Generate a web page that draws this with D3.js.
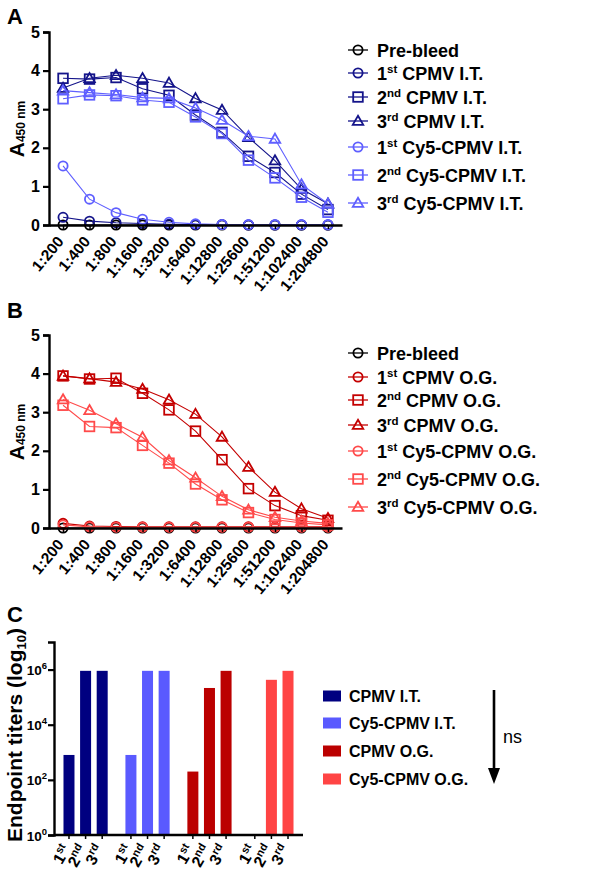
<!DOCTYPE html>
<html><head><meta charset="utf-8">
<script src="https://cdn.jsdelivr.net/npm/d3@7"></script>
<style>
body{margin:0;background:#fff;}
svg text{font-family:Arial,"Liberation Sans",sans-serif;}
</style></head>
<body><svg id="c" width="612" height="875"></svg>
<script>
// ---------- data ----------
const dilutions = ["1:200","1:400","1:800","1:1600","1:3200","1:6400","1:12800","1:25600","1:51200","1:102400","1:204800"];
const yTicksA = [0,1,2,3,4,5];

// Panel A (I.T.)
const preBleedA = [0,0,0,0,0,0,0,0,0,0,0];
const cpmvIT1 = [0.20,0.10,0.06,0.04,0.02,0.01,0.01,0.00,0.00,0.00,0.00];
const cpmvIT2 = [3.80,3.78,3.82,3.53,3.36,2.85,2.40,1.78,1.36,0.80,0.40];
const cpmvIT3 = [3.55,3.80,3.88,3.80,3.68,3.28,2.98,2.27,1.67,0.93,0.55];
const cy5IT1  = [1.53,0.67,0.32,0.15,0.07,0.03,0.01,0.01,0.01,0.01,0.01];
const cy5IT2  = [3.27,3.37,3.35,3.24,3.18,2.80,2.37,1.68,1.22,0.72,0.33];
const cy5IT3  = [3.48,3.43,3.38,3.30,3.28,3.03,2.72,2.30,2.23,1.05,0.55];

// Panel B (O.G.)
const preBleedB = [0,0,0,0,0,0,0,0,0,0,0];
const cpmvOG1 = [0.12,0.05,0.04,0.03,0.03,0.03,0.03,0.03,0.03,0.03,0.03];
const cpmvOG2 = [3.94,3.86,3.88,3.49,3.06,2.51,1.77,1.02,0.58,0.32,0.20];
const cpmvOG3 = [3.94,3.87,3.78,3.60,3.32,2.95,2.36,1.58,0.93,0.50,0.25];
const cy5OG1  = [0.08,0.03,0.02,0.02,0.02,0.02,0.02,0.02,0.02,0.02,0.02];
const cy5OG2  = [3.18,2.63,2.60,2.14,1.68,1.14,0.73,0.40,0.22,0.13,0.08];
const cy5OG3  = [3.33,3.05,2.70,2.35,1.75,1.30,0.82,0.47,0.28,0.18,0.12];

const legendOrd = ["", "1","2","3","1","2","3"];
const legendSup = ["", "st","nd","rd","st","nd","rd"];
const legendNamesA = ["Pre-bleed"," CPMV I.T."," CPMV I.T."," CPMV I.T."," Cy5-CPMV I.T."," Cy5-CPMV I.T."," Cy5-CPMV I.T."];
const legendNamesB = ["Pre-bleed"," CPMV O.G."," CPMV O.G."," CPMV O.G."," Cy5-CPMV O.G."," Cy5-CPMV O.G."," Cy5-CPMV O.G."];
const shapes = ["circle","circle","square","triangle","circle","square","triangle"];

// Panel C
const groups = ["CPMV I.T.","Cy5-CPMV I.T.","CPMV O.G.","Cy5-CPMV O.G."];
const doses = ["1st","2nd","3rd"];
const titersCpmvIT = [800, 900000, 900000];
const titersCy5IT  = [800, 900000, 900000];
const titersCpmvOG = [200, 215000, 900000];
const titersCy5OG  = [1, 425000, 900000];
const logTicks = [1, 100, 10000, 1000000];

// ---------- styles ----------
const navy = "#14148a", lightBlue = "#5f5fff", darkRed = "#c40000", lightRed = "#ff4a4a";
const barColors = ["#000080", "#5a5aff", "#bb0000", "#ff4444"];

const svg = d3.select("#c");

function marker(g, shape, x, y, color){
  if(shape==="circle"){
    g.append("circle").attr("cx",x).attr("cy",y).attr("r",4.6)
     .attr("fill","none").attr("stroke",color).attr("stroke-width",1.8);
  } else if(shape==="square"){
    g.append("rect").attr("x",x-4.8).attr("y",y-4.8).attr("width",9.6).attr("height",9.6)
     .attr("fill","none").attr("stroke",color).attr("stroke-width",1.8);
  } else {
    const s = d3.symbol().type(d3.symbolTriangle).size(48);
    g.append("path").attr("d",s()).attr("transform",`translate(${x},${y+0.8})`)
     .attr("fill","none").attr("stroke",color).attr("stroke-width",1.8);
  }
}

function linePanel(opt){
  const x = d3.scalePoint().domain(dilutions).range([49,342]).padding(0.53);
  const y = d3.scaleLinear().domain([0,5]).range([opt.y0, opt.y0-193]);
  const g = svg.append("g");
  // series
  opt.series.forEach((s,i)=>{
    const line = d3.line().x((d,j)=>x(dilutions[j])).y(d=>y(d));
    g.append("path").attr("d", line(s)).attr("fill","none")
      .attr("stroke", opt.colors[i]).attr("stroke-width",1.1);
    s.forEach((v,j)=>marker(g, shapes[i], x(dilutions[j]), y(v), opt.colors[i]));
  });
  // axes
  const ya = g.append("g").attr("transform","translate(49,0)")
    .call(d3.axisLeft(y).tickValues(yTicksA).tickSize(6).tickPadding(3).tickFormat(d3.format("d")));
  ya.select(".domain").attr("stroke-width",2.4);
  ya.selectAll(".tick line").attr("stroke-width",2.2);
  ya.selectAll("text").attr("font-size",16).attr("font-weight","bold").attr("fill","#000");
  const xa = g.append("g").attr("transform",`translate(0,${opt.y0})`)
    .call(d3.axisBottom(x).tickSize(4).tickSizeOuter(0));
  xa.select(".domain").attr("stroke-width",2.4);
  xa.selectAll(".tick line").attr("stroke-width",1.5);
  xa.selectAll("text").attr("font-size",15.5).attr("font-weight","bold").attr("fill","#000")
    .attr("text-anchor","end").attr("dy",null).attr("y",null)
    .attr("transform","translate(1,17) rotate(-50)");
  // y title
  const t = g.append("text").attr("transform",`translate(24,${opt.y0-96}) rotate(-90)`)
    .attr("text-anchor","middle").attr("font-weight","bold");
  t.append("tspan").attr("font-size",21).text("A");
  t.append("tspan").attr("font-size",12).attr("dy",1).text("450 nm");
  // panel letter
  svg.append("text").attr("x",7).attr("y",opt.letterY).attr("font-size",22)
    .attr("font-weight","bold").text(opt.letter);
  // legend
  opt.legendY.forEach((ly,i)=>{
    const lg = svg.append("g");
    lg.append("line").attr("x1",348).attr("x2",368).attr("y1",ly).attr("y2",ly)
      .attr("stroke",opt.colors[i]).attr("stroke-width",1.3);
    marker(lg, shapes[i], 358, ly, opt.colors[i]);
    const tx = lg.append("text").attr("x",377).attr("y",ly+6.5).attr("font-size",18).attr("font-weight","bold");
    if(legendOrd[i]){
      tx.append("tspan").text(legendOrd[i]);
      tx.append("tspan").attr("font-size",11.5).attr("dy",-7).text(legendSup[i]);
      tx.append("tspan").attr("dy",7).text(opt.names[i]);
    } else {
      tx.append("tspan").text(opt.names[i]);
    }
  });
}

linePanel({
  y0:225, letter:"A", letterY:24,
  series:[preBleedA,cpmvIT1,cpmvIT2,cpmvIT3,cy5IT1,cy5IT2,cy5IT3],
  colors:["#000",navy,navy,navy,lightBlue,lightBlue,lightBlue],
  names:legendNamesA,
  legendY:[50,73,97,121,147,175,203]
});
linePanel({
  y0:528, letter:"B", letterY:318,
  series:[preBleedB,cpmvOG1,cpmvOG2,cpmvOG3,cy5OG1,cy5OG2,cy5OG3],
  colors:["#000",darkRed,darkRed,darkRed,lightRed,lightRed,lightRed],
  names:legendNamesB,
  legendY:[353,377,400,425,451,479,507]
});

// ---------- Panel C ----------
(function(){
  const titers = [titersCpmvIT, titersCy5IT, titersCpmvOG, titersCy5OG];
  const gx = d3.scalePoint().domain(groups).range([54,303]).padding(0.51);
  const ix = d3.scalePoint().domain(doses).range([-16.6,16.6]);
  const y = d3.scaleLog().domain([1,1e7]).range([835,642]);
  const g = svg.append("g");
  const bw = 11;
  groups.forEach((gr,gi)=>{
    doses.forEach((d,di)=>{
      const v = titers[gi][di];
      const cx = gx(gr)+ix(d);
      g.append("rect").attr("x",cx-bw/2).attr("y",y(v)).attr("width",bw)
        .attr("height",y(1)-y(v)).attr("fill",barColors[gi]);
    });
  });
  // y axis
  const ya = g.append("g").attr("transform","translate(54,0)")
    .call(d3.axisLeft(y).tickValues(logTicks).tickSize(6).tickFormat(""));
  ya.select(".domain").attr("stroke-width",2.4);
  ya.selectAll(".tick line").attr("stroke-width",2.2);
  ya.selectAll(".tick").each(function(d){
    const t = d3.select(this).append("text").attr("x",-7).attr("y",5)
      .attr("text-anchor","end").attr("font-size",13.5).attr("font-weight","bold").attr("fill","#000");
    t.append("tspan").text("10");
    t.append("tspan").attr("font-size",9.5).attr("dy",-6).text(Math.round(Math.log10(d)));
  });
  // x axis
  const xa = g.append("g").attr("transform","translate(0,835)");
  xa.append("line").attr("x1",54).attr("x2",303).attr("stroke","#000").attr("stroke-width",2.4);
  groups.forEach(gr=>{
    doses.forEach(d=>{
      const cx = gx(gr)+ix(d);
      xa.append("line").attr("x1",cx).attr("x2",cx).attr("y1",0).attr("y2",4)
        .attr("stroke","#000").attr("stroke-width",1.5);
      const t = xa.append("text").attr("text-anchor","end").attr("font-size",16)
        .attr("font-weight","bold").attr("transform",`translate(${cx+2},${14}) rotate(-60)`);
      t.append("tspan").text(d.slice(0,1));
      t.append("tspan").attr("font-size",11).attr("dy",-6).text(d.slice(1));
    });
  });
  // y title
  const t = g.append("text").attr("transform","translate(22,735) rotate(-90)")
    .attr("text-anchor","middle").attr("font-size",21).attr("font-weight","bold");
  t.append("tspan").text("Endpoint titers (log");
  t.append("tspan").attr("font-size",13).attr("dy",4).text("10");
  t.append("tspan").attr("dy",-4).text(")");
  // letter
  svg.append("text").attr("x",7).attr("y",622).attr("font-size",22).attr("font-weight","bold").text("C");
  // legend
  const ly = [696,723,751,779];
  groups.forEach((gr,i)=>{
    svg.append("rect").attr("x",323).attr("y",ly[i]-5.5).attr("width",18).attr("height",11).attr("fill",barColors[i]);
    svg.append("text").attr("x",349).attr("y",ly[i]+6).attr("font-size",16).attr("font-weight","bold").text(gr);
  });
  // arrow + ns
  svg.append("line").attr("x1",494).attr("x2",494).attr("y1",690).attr("y2",770)
    .attr("stroke","#000").attr("stroke-width",2.6);
  svg.append("path").attr("d",d3.line()([[488,768],[500,768],[494,784]])).attr("fill","#000");
  svg.append("text").attr("x",503).attr("y",743).attr("font-size",18).text("ns");
})();
</script></body></html>
